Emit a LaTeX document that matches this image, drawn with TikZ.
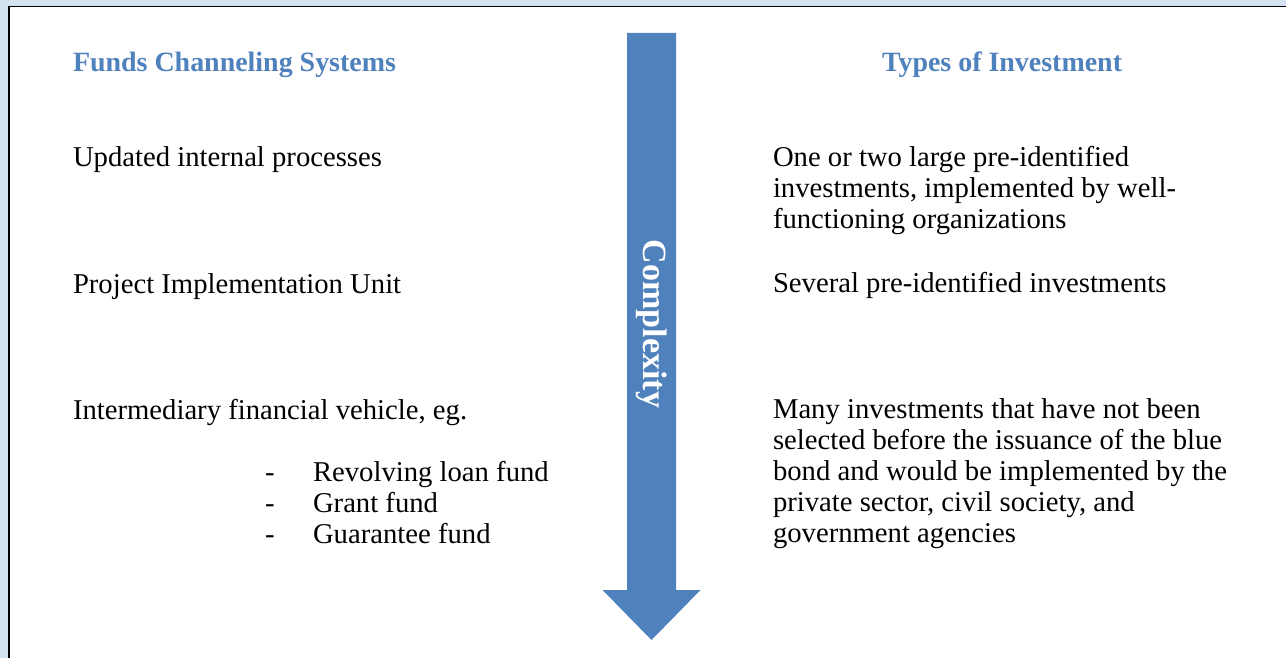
\documentclass[tikz,border=0pt]{standalone}
\usepackage{fontspec}
\setmainfont{Liberation Serif}
\definecolor{hdrblue}{HTML}{4F81BD}
\definecolor{frameblue}{HTML}{D5E2F1}
\newlength\tmpw
\begin{document}%
\settowidth\tmpw{\fontsize{10pt}{12pt}\selectfont Updated internal processes}%
\pgfmathsetmacro\bsz{10*309/\tmpw}%
\settowidth\tmpw{\fontsize{10pt}{12pt}\selectfont\bfseries Funds Channeling Systems}%
\pgfmathsetmacro\hsz{10*323/\tmpw}%
\settowidth\tmpw{\fontsize{10pt}{12pt}\selectfont\bfseries Complexity}%
\pgfmathsetmacro\csz{10*168/\tmpw}%
\def\bodyfont{\fontsize{\bsz pt}{31pt}\selectfont}%
\def\hdrfont{\fontsize{\hsz pt}{31pt}\selectfont\bfseries}%
\begin{tikzpicture}[x=1pt,y=-1pt,
  body/.style={anchor=base west,inner sep=0pt,outer sep=0pt,font=\bodyfont,text=black},
  hdr/.style={anchor=base west,inner sep=0pt,outer sep=0pt,font=\hdrfont,text=hdrblue}]
\useasboundingbox (0,0) rectangle (1286,658);
% window frame
\fill[frameblue] (0,0) rectangle (1286,6);
\fill[frameblue] (0,0) rectangle (9,658);
\draw[black,line width=1.5pt] (9,658) -- (9,6.5) -- (1286,6.5);
% arrow
\fill[hdrblue] (627,33) -- (676,33) -- (676,590) -- (700.5,590) -- (651.5,640) -- (602.5,590) -- (627,590) -- cycle;
\node[rotate=-90,inner sep=0pt,text=white,font=\fontsize{\csz pt}{31pt}\selectfont\bfseries] (cx) at (651.5,324) {Complexity};
% headers
\node[hdr] (h1) at (73,72) {Funds Channeling Systems};
\node[hdr] (h2) at (882,72) {Types of Investment};
% left column
\node[body] (l1) at (73,167) {Updated internal processes};
\node[body] (l2) at (73,293) {Project Implementation Unit};
\node[body] (l3) at (73,419) {Intermediary financial vehicle, eg.};
\node[body] (d1) at (265,481) {-};
\node[body] (d2) at (265,512) {-};
\node[body] (d3) at (265,543) {-};
\node[body] (b1) at (313,481) {Revolving loan fund};
\node[body] (b2) at (313,512) {Grant fund};
\node[body] (b3) at (313,543) {Guarantee fund};
% right column
\node[body] (r1) at (773,167) {\begin{tabular}[t]{@{}l@{}}One or two large pre-identified\\investments, implemented by well-\\functioning organizations\end{tabular}};
\node[body] (r2) at (773,292) {Several pre-identified investments};
\node[body] (r3) at (773,418) {\begin{tabular}[t]{@{}l@{}}Many investments that have not been\\selected before the issuance of the blue\\bond and would be implemented by the\\private sector, civil society, and\\government agencies\end{tabular}};
\end{tikzpicture}%
\end{document}
